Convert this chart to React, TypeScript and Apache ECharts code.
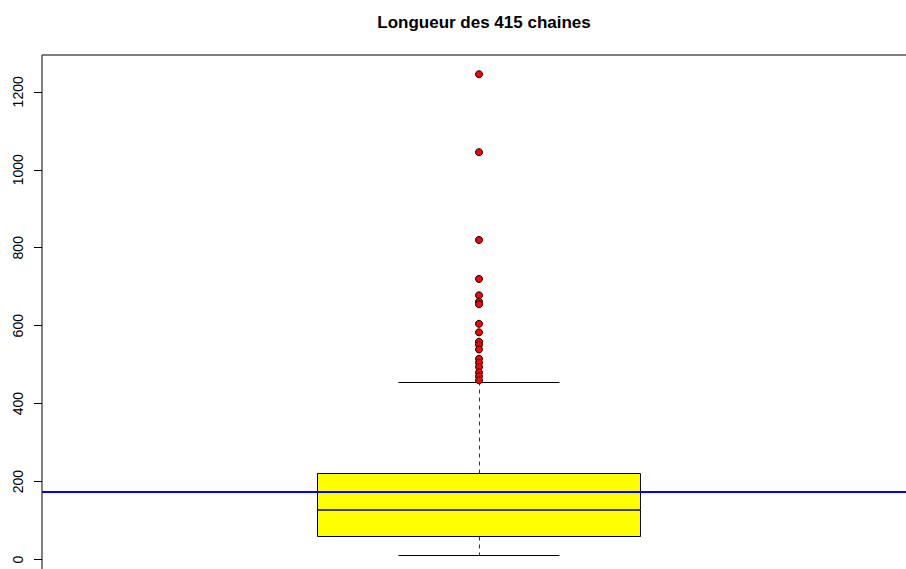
import React, { useEffect, useRef } from "react";
import * as echarts from "echarts";

// Tick labels on the value axis
const tickValues = [0, 200, 400, 600, 800, 1000, 1200];
// Box statistics: lower whisker, Q1, median, Q3, upper whisker
const boxStats = [10, 60, 128, 220, 455];
// Points beyond the upper whisker
const outliers = [
  1245, 1045, 820, 720, 678, 662, 655, 605, 583, 559, 551, 539, 515, 505, 494,
  480, 470, 460,
];
// Mean chain length, drawn as a horizontal reference line
const meanLength = 175;
const titleText = "Longueur des 415 chaines";

const FONT = "'Liberation Sans', Arial, Helvetica, sans-serif";
const BOX_HALF = 0.185;
const CAP_HALF = 0.0925;

const snap = (v: number) => Math.round(v - 0.5) + 0.5;

export default function App() {
  const ref = useRef<HTMLDivElement>(null);

  useEffect(() => {
    if (!ref.current) return;
    const chart = echarts.init(ref.current, null, { renderer: "svg" });

    const lo = Math.min(boxStats[0], ...outliers);
    const hi = Math.max(boxStats[4], ...outliers);
    const pad = 0.04 * (hi - lo);

    chart.setOption({
      animation: false,
      backgroundColor: "#ffffff",
      title: {
        text: titleText,
        left: 479,
        top: 9,
        textAlign: "center",
        textStyle: {
          fontFamily: FONT,
          fontSize: 17,
          fontWeight: "bold",
          color: "#000",
        },
      },
      grid: {
        left: 42,
        top: 55,
        width: 874,
        height: 520,
        show: true,
        borderColor: "#000",
        borderWidth: 1,
        backgroundColor: "transparent",
      },
      xAxis: {
        type: "value",
        min: 0.5,
        max: 1.5,
        show: false,
      },
      yAxis: {
        type: "value",
        min: lo - pad,
        max: hi + pad,
        splitLine: { show: false },
        axisLine: { show: false },
        axisTick: {
          show: true,
          customValues: tickValues,
          length: 8,
          lineStyle: { color: "#000", width: 1 },
        },
        axisLabel: {
          customValues: tickValues,
          formatter: (v: number) => String(v),
          rotate: 90,
          margin: 17,
          fontFamily: FONT,
          fontSize: 14,
          color: "#000",
        },
      },
      series: [
        {
          type: "custom",
          z: 2,
          clip: false,
          data: [[1, ...boxStats]],
          encode: { x: 0, y: [1, 2, 3, 4, 5] },
          renderItem: (_params: any, api: any) => {
            const x = api.value(0);
            const vMin = api.value(1);
            const vQ1 = api.value(2);
            const vMed = api.value(3);
            const vQ3 = api.value(4);
            const vMax = api.value(5);
            const cx = snap(api.coord([x, 0])[0]);
            const yOf = (v: number) => snap(api.coord([x, v])[1]);
            const bl = snap(api.coord([x - BOX_HALF, 0])[0]);
            const br = snap(api.coord([x + BOX_HALF, 0])[0]);
            const cl = snap(api.coord([x - CAP_HALF, 0])[0]);
            const cr = snap(api.coord([x + CAP_HALF, 0])[0]);
            const dash = { stroke: "#333", lineWidth: 1, lineDash: [4, 4] };
            const solid = { stroke: "#000", lineWidth: 1 };
            const medY = Math.round(api.coord([x, vMed])[1]);
            return {
              type: "group",
              children: [
                {
                  type: "line",
                  shape: { x1: cx, y1: yOf(vQ3), x2: cx, y2: yOf(vMax) },
                  style: dash,
                },
                {
                  type: "line",
                  shape: { x1: cx, y1: yOf(vQ1), x2: cx, y2: yOf(vMin) },
                  style: dash,
                },
                {
                  type: "line",
                  shape: { x1: cl, y1: yOf(vMax), x2: cr, y2: yOf(vMax) },
                  style: solid,
                },
                {
                  type: "line",
                  shape: { x1: cl, y1: yOf(vMin), x2: cr, y2: yOf(vMin) },
                  style: solid,
                },
                {
                  type: "rect",
                  shape: {
                    x: bl,
                    y: yOf(vQ3),
                    width: br - bl,
                    height: yOf(vQ1) - yOf(vQ3),
                  },
                  style: { fill: "#ffff00", stroke: "#000", lineWidth: 1 },
                },
                {
                  type: "line",
                  shape: { x1: bl, y1: medY, x2: br, y2: medY },
                  style: { stroke: "#444", lineWidth: 2 },
                },
              ],
            };
          },
        },
        {
          type: "line",
          z: 4,
          data: [],
          markLine: {
            silent: true,
            symbol: "none",
            label: { show: false },
            lineStyle: { color: "#0000ff", width: 2, type: "solid" },
            data: [{ yAxis: meanLength }],
          },
        },
        {
          type: "scatter",
          z: 5,
          symbol: "circle",
          symbolSize: 7,
          itemStyle: {
            color: "#ff0000",
            borderColor: "#000",
            borderWidth: 1,
            opacity: 1,
          },
          data: outliers.map((v) => [1, v]),
        },
      ],
    });

    return () => chart.dispose();
  }, []);

  return (
    <div
      style={{
        position: "fixed",
        left: 0,
        top: 0,
        width: 906,
        height: 569,
        overflow: "hidden",
        background: "#fff",
      }}
    >
      <div ref={ref} style={{ width: 940, height: 600 }} />
    </div>
  );
}
